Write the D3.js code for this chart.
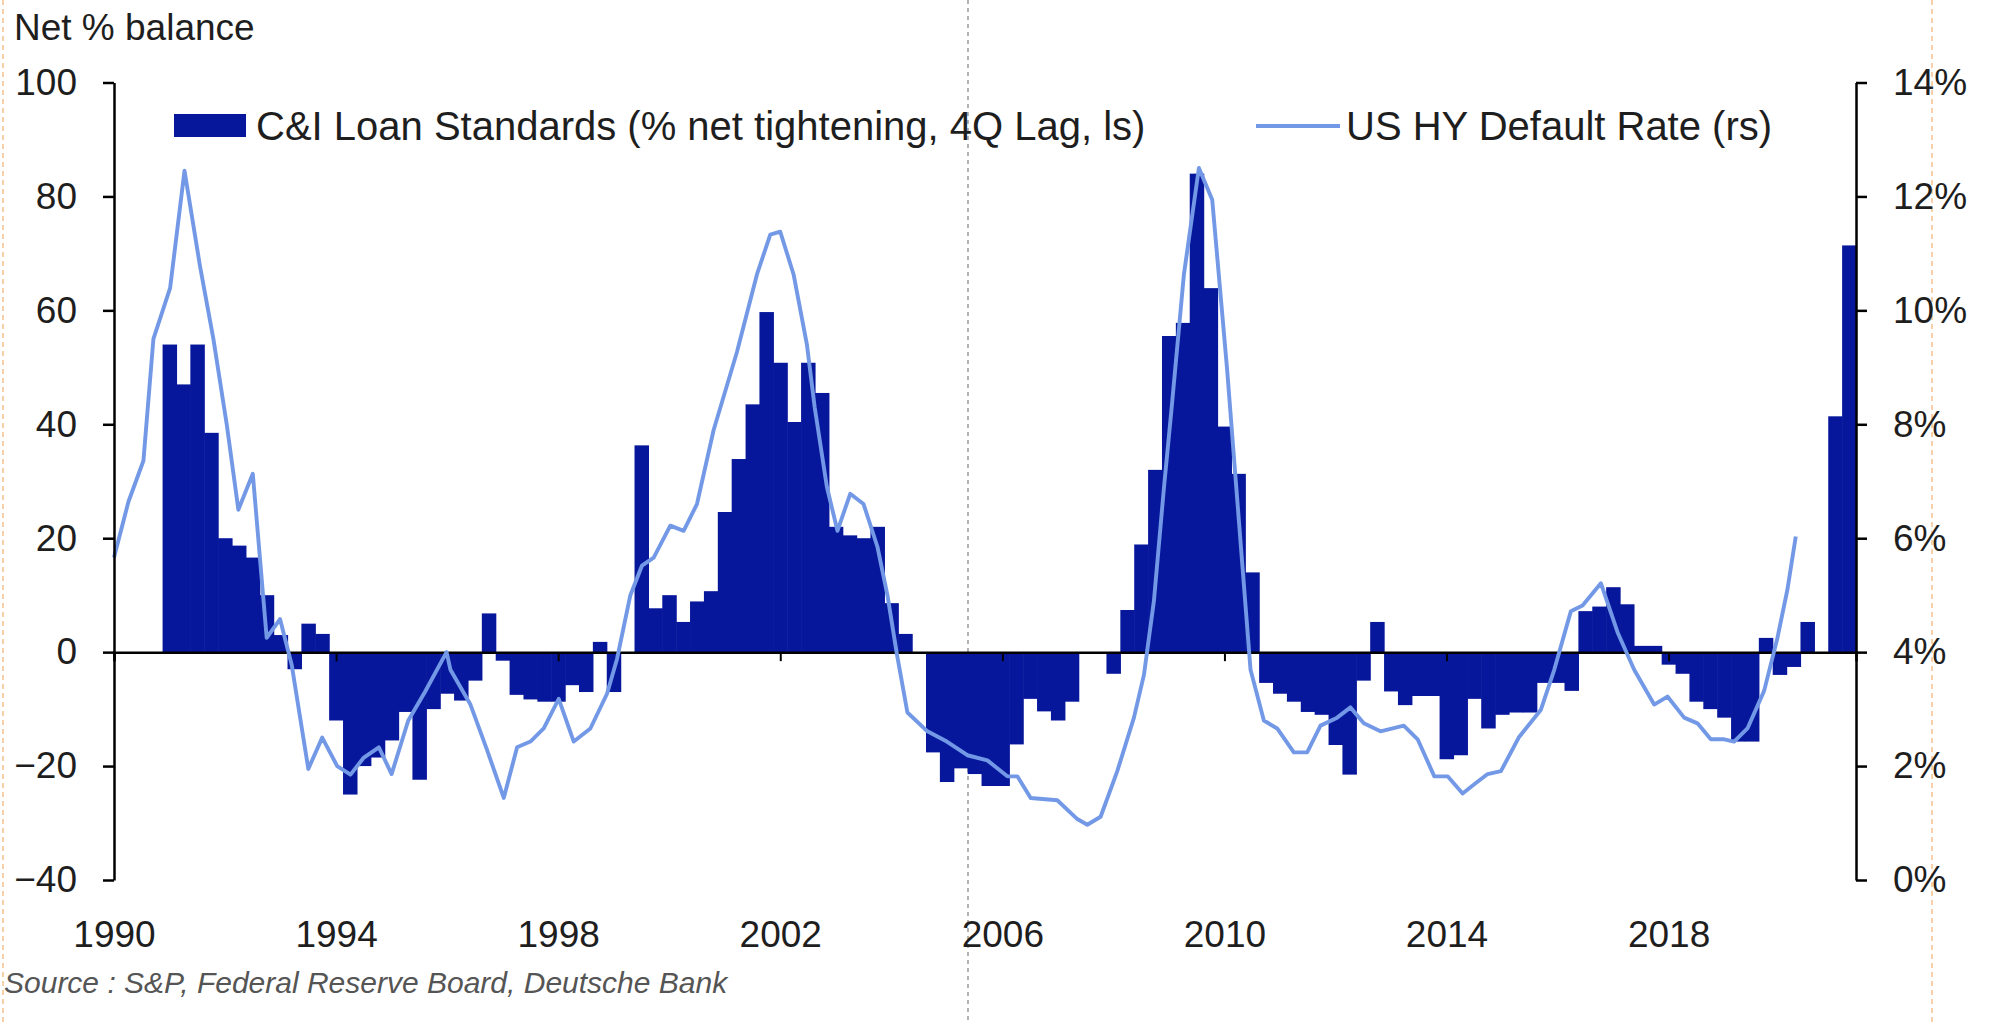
<!DOCTYPE html>
<html><head><meta charset="utf-8">
<script src="https://cdn.jsdelivr.net/npm/d3@7"></script>
<style>
html,body{margin:0;padding:0;background:#fff;}
svg{display:block;font-family:"Liberation Sans",Arial,Helvetica,sans-serif;}
</style></head><body>
<svg id="chart" width="1994" height="1023"></svg>
<script>
// ---------- data ----------
const yearTicks = [1990, 1994, 1998, 2002, 2006, 2010, 2014, 2018];
const leftTicks = [-40, -20, 0, 20, 40, 60, 80, 100];
const rightTicks = [0, 2, 4, 6, 8, 10, 12, 14];
const seriesNames = ["C&I Loan Standards (% net tightening, 4Q Lag, ls)", "US HY Default Rate (rs)"];

// quarterly bars, first bar = 1990 Q4
const loanStartYear = 1990, loanStartQuarter = 4;
const loanValues = [
  54, 47, 54, 38.5, 20, 18.7, 16.6, 10, 3, -3,
  5, 3.2, -12, -25, -20, -18.5, -15.5, -10.5, -22.4, -10,
  -7.3, -8.5, -5, 6.8, -1.5, -7.5, -8.3, -8.7, -8.7, -5.8,
  -7, 1.8, -7, 0, 36.3, 7.7, 10, 5.3, 8.9, 10.7,
  24.6, 33.9, 43.5, 59.7, 50.8, 40.4, 50.8, 45.5, 22, 20.5,
  20, 22, 8.6, 3.2, 0, -17.6, -22.8, -20.4, -21.4, -23.5,
  -23.5, -16.2, -8.2, -10.4, -12, -8.7, 0, 0, -3.8, 7.4,
  18.9, 32, 55.5, 57.8, 84, 63.9, 39.6, 31.3, 14, -5.4,
  -7.3, -8.7, -10.5, -11, -16.3, -21.5, -5, 5.3, -6.9, -9.3,
  -7.7, -7.7, -18.8, -18.1, -8.2, -13.4, -11, -10.6, -10.6, -5.4,
  -5.4, -6.8, 7.2, 8, 11.4, 8.4, 1.1, 1.1, -2.2, -3.8,
  -8.7, -10, -11.5, -15.7, -15.7, 2.5, -4, -2.6, 5.3, 0,
  41.4, 71.4
];

// HY default rate (%), dates in decimal years
const hyDates = [
  1990.00, 1990.26, 1990.53, 1990.71, 1991.01, 1991.27, 1991.55, 1991.79, 1992.03, 1992.24,
  1992.50, 1992.75, 1992.99, 1993.20, 1993.50, 1993.75, 1994.02, 1994.26, 1994.50, 1994.77,
  1995.00, 1995.30, 1995.60, 1995.99, 1996.06, 1996.42, 1996.72, 1997.02, 1997.26, 1997.50,
  1997.74, 1998.01, 1998.28, 1998.58, 1998.88, 1999.06, 1999.30, 1999.51, 1999.72, 2000.02,
  2000.26, 2000.50, 2000.80, 2001.22, 2001.58, 2001.82, 2002.00, 2002.24, 2002.48, 2002.62,
  2002.84, 2003.03, 2003.26, 2003.50, 2003.75, 2003.93, 2004.10, 2004.29, 2004.65, 2005.00,
  2005.37, 2005.73, 2006.09, 2006.27, 2006.51, 2006.99, 2007.35, 2007.53, 2007.77, 2008.07,
  2008.37, 2008.55, 2008.73, 2008.91, 2009.05, 2009.27, 2009.54, 2009.78, 2010.05, 2010.26,
  2010.47, 2010.71, 2010.95, 2011.25, 2011.49, 2011.73, 2012.03, 2012.27, 2012.51, 2012.81,
  2013.23, 2013.48, 2013.78, 2014.02, 2014.29, 2014.50, 2014.74, 2014.98, 2015.30, 2015.70,
  2015.94, 2016.24, 2016.45, 2016.78, 2017.08, 2017.38, 2017.74, 2017.98, 2018.28, 2018.52,
  2018.76, 2019.00, 2019.18, 2019.42, 2019.72, 2019.96, 2020.14, 2020.29
];
const hyRates = [
  5.66, 6.64, 7.36, 9.5, 10.39, 12.45, 10.77, 9.5, 8.0, 6.5,
  7.13, 4.25, 4.58, 3.78, 1.95, 2.5, 2.0, 1.85, 2.15, 2.33,
  1.86, 2.8, 3.3, 4.0, 3.69, 3.08, 2.28, 1.44, 2.33, 2.43,
  2.66, 3.18, 2.43, 2.66, 3.27, 3.88, 5.0, 5.52, 5.66, 6.22,
  6.13, 6.6, 7.9, 9.27, 10.63, 11.33, 11.38, 10.63, 9.4, 8.3,
  6.9, 6.13, 6.78, 6.6, 5.85, 5.0, 3.97, 2.94, 2.61, 2.43,
  2.19, 2.1, 1.82, 1.82, 1.44, 1.4, 1.07, 0.97, 1.11, 1.91,
  2.85, 3.6, 4.9, 6.88, 8.3, 10.63, 12.5, 11.94, 8.94, 6.31,
  3.69, 2.8, 2.66, 2.24, 2.24, 2.71, 2.85, 3.03, 2.75, 2.61,
  2.71, 2.47, 1.82, 1.82, 1.52, 1.68, 1.86, 1.91, 2.5, 2.99,
  3.69, 4.72, 4.82, 5.21, 4.35, 3.69, 3.08, 3.22, 2.85, 2.75,
  2.47, 2.47, 2.43, 2.66, 3.32, 4.25, 5.1, 6.03
];

// ---------- chart ----------
const svg = d3.select("#chart");
const barColor = "#07179b", lineColor = "#7399e6", textColor = "#1e1e1e";

const x = d3.scaleLinear().domain([1990, 2021.375]).range([114, 1856]);
const yL = d3.scaleLinear().domain([-40, 100]).range([880, 82.5]);
const yR = d3.scaleLinear().domain([0, 14]).range([880, 82.5]);

// dashed guide lines of the page
[[3, "#f2b77a", "5,4"], [1932, "#f2b77a", "5,4"], [968, "#8a8a8a", "4,4"]].forEach(([gx, c, da]) => {
  svg.append("line").attr("x1", gx).attr("x2", gx).attr("y1", 0).attr("y2", 1023)
    .attr("stroke", c).attr("stroke-width", 1.3).attr("stroke-dasharray", da);
});

// bars
const bars = loanValues.map((v, i) => {
  const qIndex = (loanStartQuarter - 1) + i;
  const yr = loanStartYear + Math.floor(qIndex / 4);
  const q = (qIndex % 4) + 1;
  return { t: yr + q / 4, v };
});
svg.append("g").selectAll("rect").data(bars).join("rect")
  .attr("x", d => x(d.t - 0.125))
  .attr("width", d => x(d.t + 0.125) - x(d.t - 0.125) + 0.6)
  .attr("y", d => Math.min(yL(d.v), yL(0)))
  .attr("height", d => Math.abs(yL(d.v) - yL(0)))
  .attr("fill", barColor);

// zero line with year ticks
const zeroAxis = svg.append("g").attr("transform", `translate(0,${yL(0)})`)
  .call(d3.axisBottom(x).tickValues(yearTicks).tickSize(9).tickFormat(""));
zeroAxis.select(".domain").attr("stroke", "#000").attr("stroke-width", 2.5);
zeroAxis.selectAll(".tick line").attr("stroke", "#000").attr("stroke-width", 2);

// HY default line
const line = d3.line().x(d => x(d[0])).y(d => yR(d[1]));
svg.append("path").datum(hyDates.map((d, i) => [d, hyRates[i]]))
  .attr("d", line).attr("fill", "none").attr("stroke", lineColor)
  .attr("stroke-width", 3.9).attr("stroke-linejoin", "round");

// left axis
const gL = svg.append("g").attr("transform", "translate(114,0)")
  .call(d3.axisLeft(yL).tickValues(leftTicks).tickSize(11).tickSizeOuter(0).tickPadding(26));
// right axis
const gR = svg.append("g").attr("transform", "translate(1856,0)")
  .call(d3.axisRight(yR).tickValues(rightTicks).tickSize(11).tickSizeOuter(0).tickPadding(26)
    .tickFormat(d => d + "%"));
[gL, gR].forEach(g => {
  g.select(".domain").attr("stroke", "#000").attr("stroke-width", 2.5);
  g.selectAll(".tick line").attr("stroke", "#000").attr("stroke-width", 2.5);
  g.selectAll(".tick text").attr("fill", textColor).style("font-size", "37px")
    .style("font-family", "'Liberation Sans', Arial, sans-serif");
});

// bottom year labels
const gX = svg.append("g").attr("transform", "translate(0,921)")
  .call(d3.axisBottom(x).tickValues(yearTicks).tickSize(0).tickPadding(0).tickFormat(d3.format("d")));
gX.select(".domain").remove();
gX.selectAll(".tick text").attr("fill", textColor).style("font-size", "37px")
  .style("font-family", "'Liberation Sans', Arial, sans-serif");

// axis title
svg.append("text").attr("x", 14).attr("y", 40).text("Net % balance")
  .attr("fill", textColor).style("font-size", "37px");

// legend
const lg = svg.append("g");
lg.append("rect").attr("x", 174).attr("y", 114).attr("width", 72).attr("height", 23).attr("fill", barColor);
lg.append("text").attr("x", 256).attr("y", 140).text(seriesNames[0])
  .attr("fill", textColor).style("font-size", "40px");
lg.append("line").attr("x1", 1256).attr("x2", 1340).attr("y1", 126).attr("y2", 126)
  .attr("stroke", lineColor).attr("stroke-width", 3.9);
lg.append("text").attr("x", 1346).attr("y", 140).text(seriesNames[1])
  .attr("fill", textColor).style("font-size", "40px");

// source
svg.append("text").attr("x", 4).attr("y", 993)
  .text("Source : S&P, Federal Reserve Board, Deutsche Bank")
  .attr("fill", "#555").style("font-size", "30px").style("font-style", "italic");
</script>
</body></html>
